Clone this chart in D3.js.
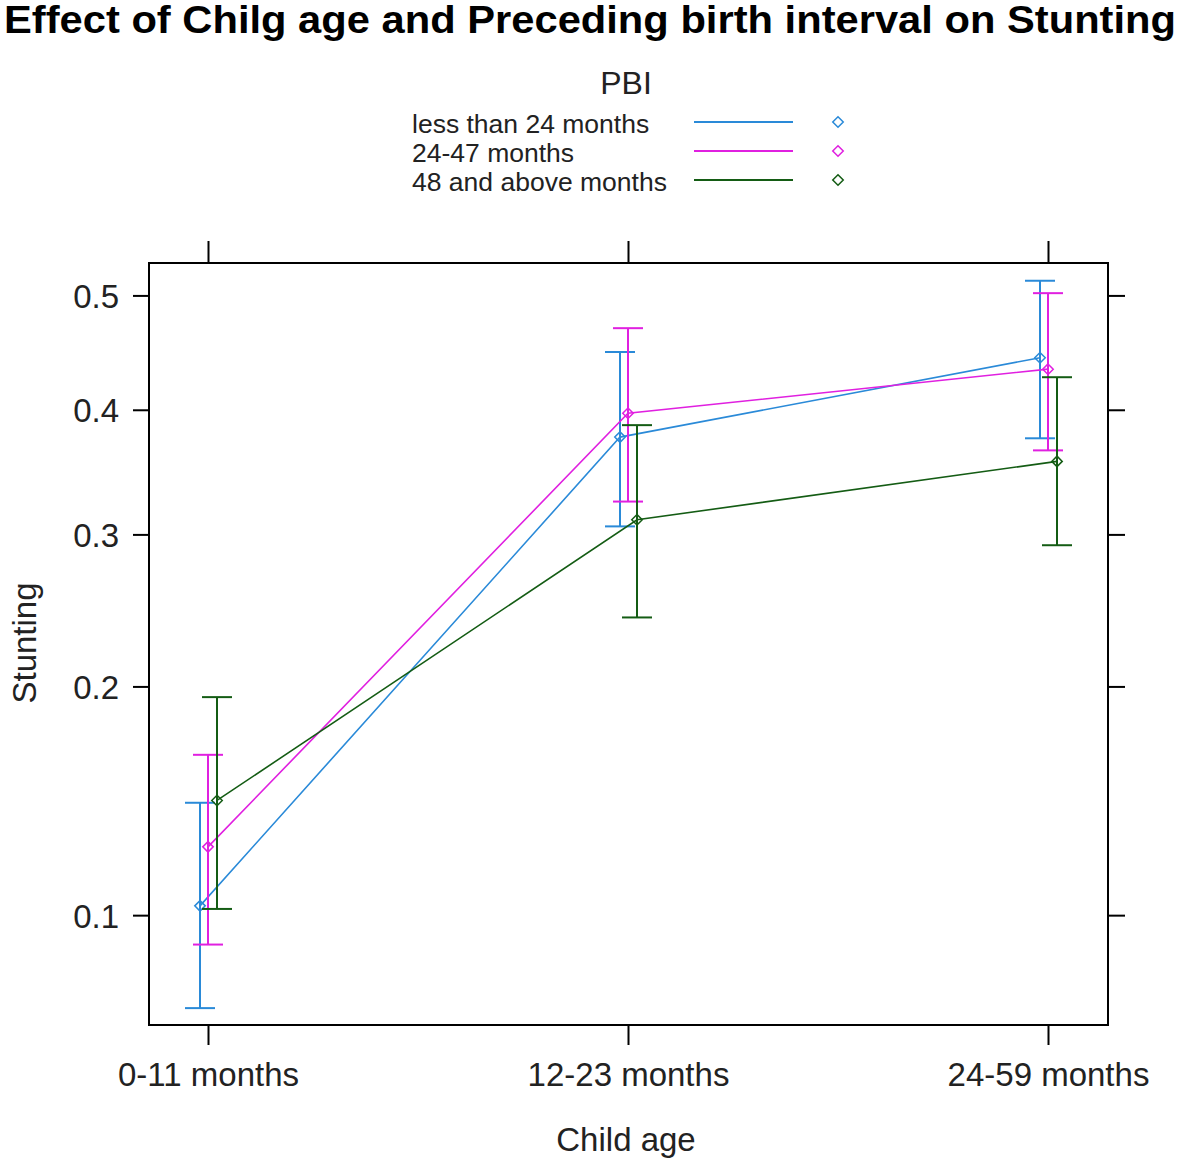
<!DOCTYPE html>
<html><head><meta charset="utf-8">
<script src="https://cdn.jsdelivr.net/npm/d3@7"></script>
<style>
html,body{margin:0;padding:0;background:#fff;}
svg text{font-family:"Liberation Sans",Arial,sans-serif;}
</style></head>
<body>
<script>
const categories = ["0-11 months", "12-23 months", "24-59 months"];
const seriesNames = ["less than 24 months", "24-47 months", "48 and above months"];
const fitBlue = [0.103, 0.377, 0.445];
const lowerBlue = [0.074, 0.306, 0.376];
const upperBlue = [0.142, 0.450, 0.513];
const fitMagenta = [0.124, 0.397, 0.435];
const lowerMagenta = [0.091, 0.325, 0.366];
const upperMagenta = [0.164, 0.471, 0.502];
const fitGreen = [0.143, 0.311, 0.357];
const lowerGreen = [0.102, 0.242, 0.292];
const upperGreen = [0.194, 0.387, 0.428];
const yTicks = [0.1, 0.2, 0.3, 0.4, 0.5];
const yTickLabels = ["0.1", "0.2", "0.3", "0.4", "0.5"];
const colors = ["#2a8ad8", "#e020e0", "#145c14"];

const series = [
  {name: seriesNames[0], fit: fitBlue, lo: lowerBlue, hi: upperBlue, color: colors[0], dx: -8},
  {name: seriesNames[1], fit: fitMagenta, lo: lowerMagenta, hi: upperMagenta, color: colors[1], dx: 0},
  {name: seriesNames[2], fit: fitGreen, lo: lowerGreen, hi: upperGreen, color: colors[2], dx: 9}
];

const W = 1181, H = 1162;
const L = 149, R = 1108, T = 263, B = 1025;
const logit = p => Math.log(p / (1 - p));

const svg = d3.select("body").append("svg").attr("width", W).attr("height", H);

const x = d3.scalePoint().domain(categories).range([208, 1048]);
const yLin = d3.scaleLinear().domain([logit(0.0700), logit(0.5287)]).range([B, T]);
const y = p => yLin(logit(p));

// Title
svg.append("text").attr("x", 4).attr("y", 33)
  .attr("font-size", 38).attr("font-weight", "bold").attr("fill", "#000")
  .attr("textLength", 1172).attr("lengthAdjust", "spacingAndGlyphs")
  .text("Effect of Chilg age and Preceding birth interval on Stunting");

// Legend
svg.append("text").attr("x", 626).attr("y", 94).attr("text-anchor", "middle")
  .attr("font-size", 32).attr("fill", "#222").text("PBI");
const legY = d3.scalePoint().domain(seriesNames).range([122, 180]);
const leg = svg.append("g").selectAll("g").data(series).join("g");
leg.append("text").attr("x", 412).attr("y", d => legY(d.name) + 11)
  .attr("font-size", 26.5).attr("fill", "#222").text(d => d.name);
leg.append("line").attr("x1", 694).attr("x2", 793)
  .attr("y1", d => legY(d.name)).attr("y2", d => legY(d.name))
  .attr("stroke", d => d.color).attr("stroke-width", 2);
leg.append("path")
  .attr("d", d3.symbol(d3.symbolDiamond2, 70))
  .attr("transform", d => `translate(838,${legY(d.name)})`)
  .attr("fill", "none").attr("stroke", d => d.color).attr("stroke-width", 1.5);

// Axes
const axisFont = g => g.selectAll("text").attr("font-size", 33).attr("fill", "#222")
  .style("font-family", "'Liberation Sans', Arial, sans-serif");
const leftAxis = svg.append("g").attr("transform", `translate(${L},0)`)
  .call(d3.axisLeft(yLin).tickValues(yTicks.map(logit)).tickFormat((d, i) => yTickLabels[i]).tickSize(16).tickPadding(14));
leftAxis.select(".domain").remove();
leftAxis.selectAll("line").attr("stroke", "#000").attr("stroke-width", 2);
axisFont(leftAxis);
leftAxis.selectAll("text").attr("dy", "0.36em");

const rightAxis = svg.append("g").attr("transform", `translate(${R},0)`)
  .call(d3.axisRight(yLin).tickValues(yTicks.map(logit)).tickFormat("").tickSize(17));
rightAxis.select(".domain").remove();
rightAxis.selectAll("line").attr("stroke", "#000").attr("stroke-width", 2);

const bottomAxis = svg.append("g").attr("transform", `translate(0,${B})`)
  .call(d3.axisBottom(x).tickSize(20).tickPadding(18));
bottomAxis.select(".domain").remove();
bottomAxis.selectAll("line").attr("stroke", "#000").attr("stroke-width", 2);
axisFont(bottomAxis);

const topAxis = svg.append("g").attr("transform", `translate(0,${T})`)
  .call(d3.axisTop(x).tickFormat("").tickSize(22));
topAxis.select(".domain").remove();
topAxis.selectAll("line").attr("stroke", "#000").attr("stroke-width", 2);

// Frame
svg.append("rect").attr("x", L).attr("y", T).attr("width", R - L).attr("height", B - T)
  .attr("fill", "none").attr("stroke", "#000").attr("stroke-width", 2);

// Axis titles
svg.append("text").attr("x", 626).attr("y", 1151).attr("text-anchor", "middle")
  .attr("font-size", 33).attr("fill", "#222").text("Child age");
svg.append("text").attr("transform", "translate(36,643) rotate(-90)").attr("text-anchor", "middle")
  .attr("font-size", 33).attr("fill", "#222").text("Stunting");

// Series
const gS = svg.append("g").selectAll("g").data(series).join("g");
gS.append("path")
  .attr("d", d => d3.line().x((v, i) => x(categories[i]) + d.dx).y(v => y(v))(d.fit))
  .attr("fill", "none").attr("stroke", d => d.color).attr("stroke-width", 1.6);
gS.each(function(d) {
  const g = d3.select(this);
  categories.forEach((c, i) => {
    const cx = x(c) + d.dx;
    g.append("line").attr("x1", cx).attr("x2", cx).attr("y1", y(d.lo[i])).attr("y2", y(d.hi[i]))
      .attr("stroke", d.color).attr("stroke-width", 2);
    [d.lo[i], d.hi[i]].forEach(v => {
      g.append("line").attr("x1", cx - 15).attr("x2", cx + 15).attr("y1", y(v)).attr("y2", y(v))
        .attr("stroke", d.color).attr("stroke-width", 2);
    });
    g.append("path").attr("d", d3.symbol(d3.symbolDiamond2, 70))
      .attr("transform", `translate(${cx},${y(d.fit[i])})`)
      .attr("fill", "none").attr("stroke", d.color).attr("stroke-width", 1.5);
  });
});
</script>
</body></html>
